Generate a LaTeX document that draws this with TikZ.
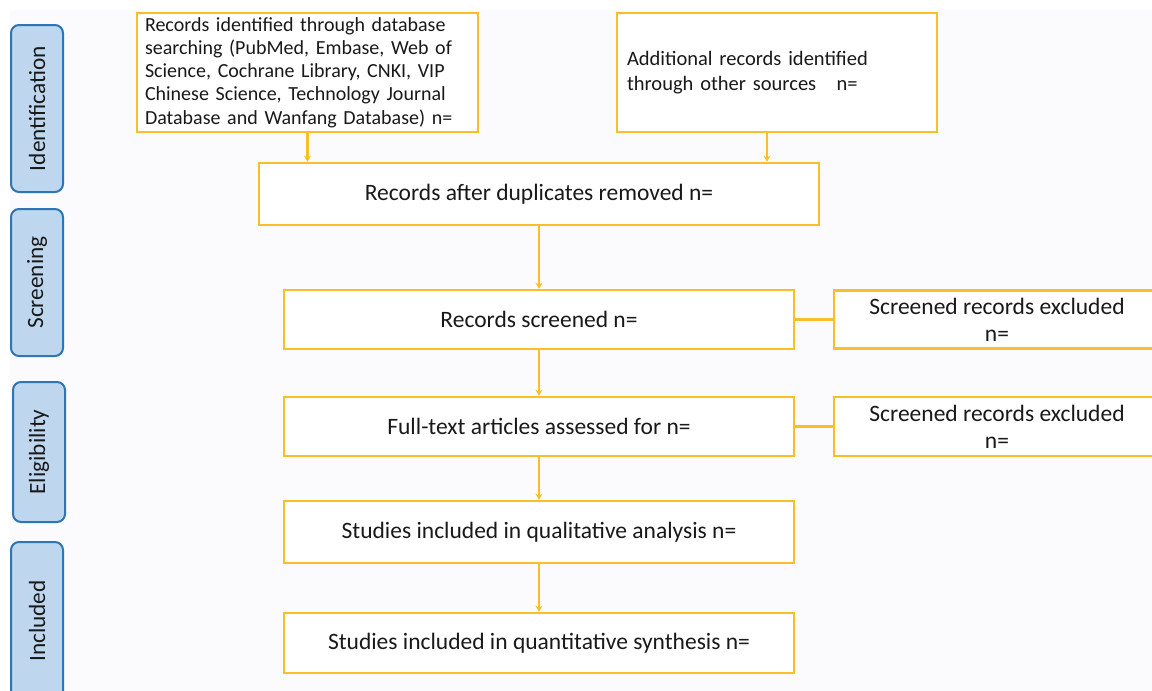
\documentclass[tikz,border=0pt]{standalone}
\usepackage{fontspec}
\setmainfont{Carlito}
\usetikzlibrary{arrows.meta}
\definecolor{boxor}{RGB}{250,190,40}
\definecolor{sidefill}{RGB}{190,215,238}
\definecolor{sidedraw}{RGB}{46,117,182}
\definecolor{txt}{RGB}{25,25,25}
\definecolor{bg}{RGB}{251,251,253}
\tikzset{
  flowbox/.style={draw=boxor, line width=2.6pt, fill=white, text=txt, inner sep=0pt, font=\fontsize{23.5}{27}\selectfont, align=center},
  sidebox/.style={draw=sidedraw, line width=2pt, fill=sidefill, rounded corners=8pt, text=txt, rotate=90, inner sep=0pt, font=\fontsize{23.3}{26}\selectfont},
  arr/.style={draw=boxor, line width=2.2pt, -{Stealth[length=6pt,width=7pt]}},
  link/.style={draw=boxor, line width=2.2pt}
}
\begin{document}
\begin{tikzpicture}[x=1pt,y=-1pt]
\useasboundingbox (0,0) rectangle (1152,691);
\clip (0,0) rectangle (1152,691);
\fill[white] (0,0) rectangle (1152,691);
\fill[bg] (10,10) rectangle (1152,691);
% side labels
\node[sidebox, minimum width=167pt, minimum height=52pt] (sid) at (37,108.5) {Identification};
\node[sidebox, minimum width=147pt, minimum height=52pt] (sscr) at (37,282.5) {Screening};
\node[sidebox, minimum width=140pt, minimum height=52pt] (selig) at (39,452) {Eligibility};
\node[sidebox, minimum width=158pt, minimum height=52pt] (sinc) at (37,621) {Included};
% boxes
\node[flowbox, minimum width=341pt, minimum height=119pt, text width=325pt, align=left, font=\fontsize{20}{23.2}\selectfont] (A) at (307.5,72.5)
 {Records identified through database\\searching (PubMed, Embase, Web of\\Science, Cochrane Library, CNKI, VIP\\Chinese Science, Technology Journal\\Database and Wanfang Database) n=};
\node[flowbox, minimum width=320pt, minimum height=119pt, text width=300pt, align=left, font=\fontsize{20.5}{25}\selectfont] (B) at (777,72.5)
 {Additional records identified\\through other sources\quad n=};
\node[flowbox, minimum width=560pt, minimum height=62pt] (C) at (539,194) {Records after duplicates removed n=};
\node[flowbox, minimum width=510pt, minimum height=59pt] (D) at (539,319.5) {Records screened n=};
\node[flowbox, minimum width=510pt, minimum height=59pt] (E) at (539,426.5) {Full-text articles assessed for n=};
\node[flowbox, minimum width=510pt, minimum height=62pt] (F) at (539,532) {Studies included in qualitative analysis n=};
\node[flowbox, minimum width=510pt, minimum height=60pt] (G) at (539,643) {Studies included in quantitative synthesis n=};
\node[flowbox, minimum width=326pt, minimum height=58pt] (X1) at (997,319.5) {Screened records excluded\\n=};
\node[flowbox, minimum width=326pt, minimum height=59pt] (X2) at (997,426.5) {Screened records excluded\\n=};
% connectors
\coordinate (bo) at ([xshift=-10pt]B.south);
\draw[arr] (A.south) -- (A.south |- C.north);
\draw[arr] (bo) -- (bo |- C.north);
\draw[arr] (C.south) -- (D.north);
\draw[arr] (D.south) -- (E.north);
\draw[arr] (E.south) -- (F.north);
\draw[arr] (F.south) -- (G.north);
\draw[link] (D.east) -- (X1.west);
\draw[link] (E.east) -- (X2.west);
\end{tikzpicture}
\end{document}
